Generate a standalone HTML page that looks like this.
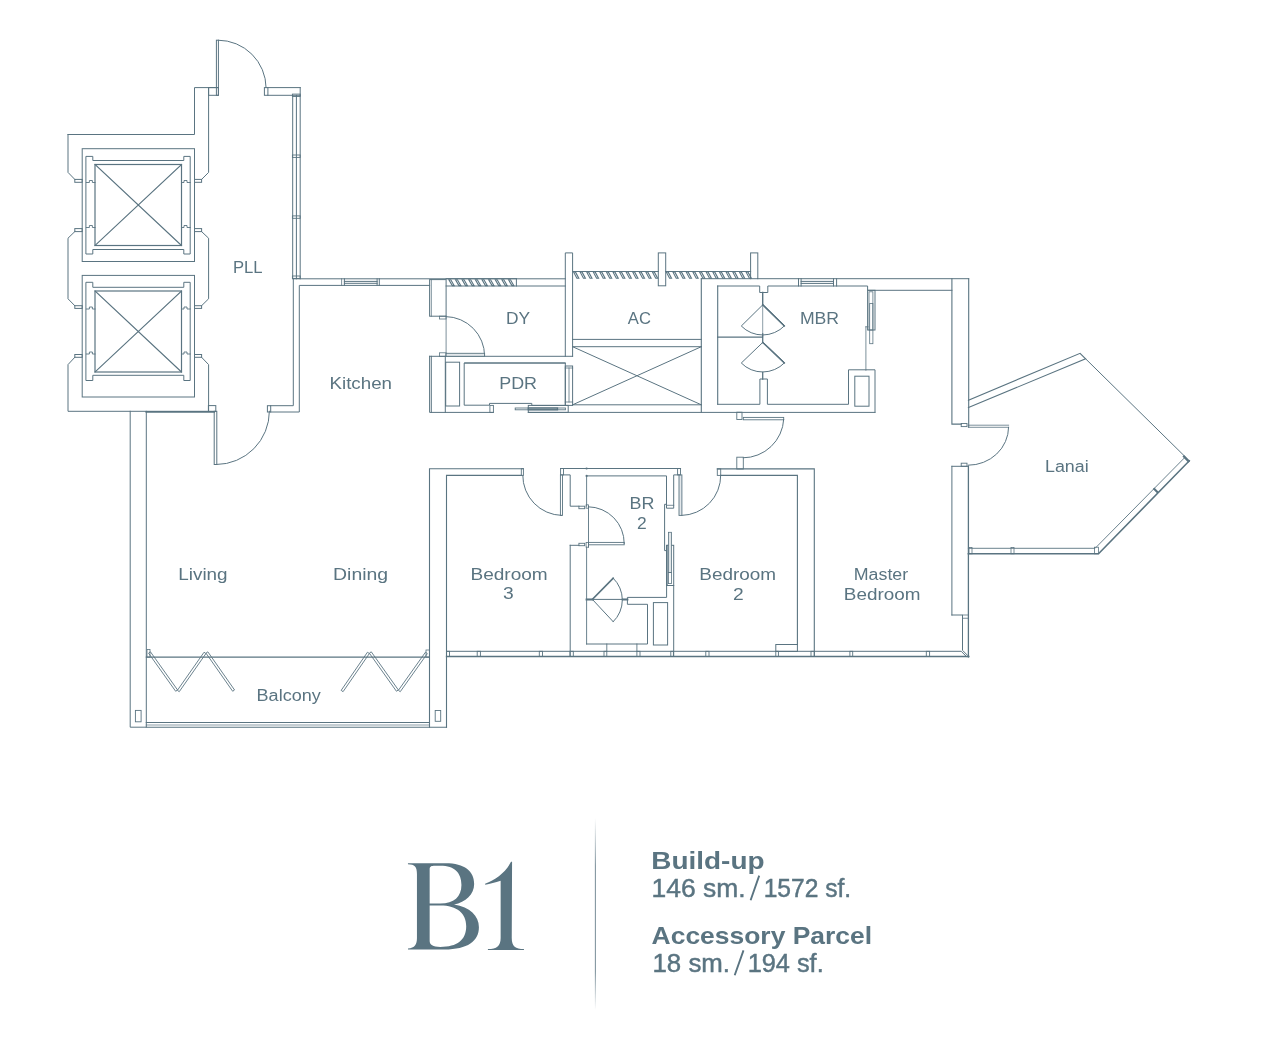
<!DOCTYPE html>
<html><head><meta charset="utf-8"><style>
html,body{margin:0;padding:0;background:#fff;width:1264px;height:1038px;overflow:hidden}
svg{display:block;will-change:transform}
</style></head><body>
<svg width="1264" height="1038" viewBox="0 0 1264 1038">
<g fill="none" stroke="#5a7481" stroke-linecap="square" stroke-linejoin="miter">
<path d="M68.0,134.5 H194.5 V87.6 H218.4" stroke-width="1.0" />
<path d="M68.0,134.5 V172.4 L74.8,179.4" stroke-width="1.0" />
<path d="M208.6,87.6 V172.4 L201.6,179.4" stroke-width="1.0" />
<rect x="74.8" y="179.4" width="7.4" height="2.9" stroke-width="1.0"/>
<rect x="194.5" y="179.4" width="7.1" height="2.9" stroke-width="1.0"/>
<rect x="74.8" y="228.6" width="7.4" height="3.0" stroke-width="1.0"/>
<rect x="194.5" y="228.6" width="7.1" height="3.0" stroke-width="1.0"/>
<path d="M74.8,231.6 L68.0,238.2 V298.8 L74.8,305.7" stroke-width="1.0" />
<path d="M201.6,231.6 L208.6,238.2 V298.8 L201.6,305.7" stroke-width="1.0" />
<rect x="74.8" y="305.7" width="7.4" height="2.7" stroke-width="1.0"/>
<rect x="194.5" y="305.7" width="7.1" height="2.7" stroke-width="1.0"/>
<rect x="74.8" y="354.5" width="7.4" height="2.8" stroke-width="1.0"/>
<rect x="194.5" y="354.5" width="7.1" height="2.8" stroke-width="1.0"/>
<path d="M74.8,357.3 L68.0,364.6 V411.3 H208.6 V364.6 L201.6,357.3" stroke-width="1.0" />
<rect x="82.2" y="148.7" width="112.3" height="112.8" stroke-width="1.0"/>
<path d="M86.4,156.4 H92.8 V160.5 H183.8 V156.4 H190.2 V254.0 H183.8 V249.5 H92.8 V254.0 H86.4 Z" stroke-width="1.0" />
<rect x="95.0" y="164.5" width="86.5" height="81.0" stroke-width="1.2"/>
<path d="M95.0,164.5 L181.5,245.5 M181.5,164.5 L95.0,245.5" stroke-width="1.1" />
<path d="M86.4,182.5 H89.4 V180.5 H92.4 V182.5 H95.0" stroke-width="0.9" />
<path d="M181.5,182.5 H184.0 V180.5 H187.0 V182.5 H190.2" stroke-width="0.9" />
<path d="M86.4,227.5 H89.4 V225.5 H92.4 V227.5 H95.0" stroke-width="0.9" />
<path d="M181.5,227.5 H184.0 V225.5 H187.0 V227.5 H190.2" stroke-width="0.9" />
<rect x="82.2" y="275.4" width="112.3" height="121.6" stroke-width="1.0"/>
<path d="M86.4,282.3 H92.8 V287.3 H183.8 V282.3 H190.2 V380.5 H183.8 V375.3 H92.8 V380.5 H86.4 Z" stroke-width="1.0" />
<rect x="95.0" y="291.0" width="86.5" height="81.0" stroke-width="1.2"/>
<path d="M95.0,291.0 L181.5,372.0 M181.5,291.0 L95.0,372.0" stroke-width="1.1" />
<path d="M86.4,309.0 H89.4 V307.0 H92.4 V309.0 H95.0" stroke-width="0.9" />
<path d="M181.5,309.0 H184.0 V307.0 H187.0 V309.0 H190.2" stroke-width="0.9" />
<path d="M86.4,354.0 H89.4 V352.0 H92.4 V354.0 H95.0" stroke-width="0.9" />
<path d="M181.5,354.0 H184.0 V352.0 H187.0 V354.0 H190.2" stroke-width="0.9" />
<rect x="208.6" y="87.6" width="9.8" height="7.7" stroke-width="1.0"/>
<rect x="216.4" y="40.2" width="2.0" height="55.1" stroke-width="1.0"/>
<path d="M218.4,40.2 A47.7,47.7 0 0 1 266.1,87.6" stroke-width="1.0" />
<rect x="264.4" y="87.6" width="3.5" height="7.7" stroke-width="1.0"/>
<path d="M267.9,87.6 H300.2 M267.9,95.3 H300.2" stroke-width="1.0" />
<path d="M292.7,95.3 V278.8 M296.4,95.3 V278.8 M300.2,87.6 V278.8" stroke-width="1.0" />
<rect x="292.4" y="94.1" width="7.8" height="2.4" stroke-width="0.9"/>
<rect x="292.4" y="155.0" width="7.8" height="2.4" stroke-width="0.9"/>
<rect x="292.4" y="215.9" width="7.8" height="2.4" stroke-width="0.9"/>
<rect x="292.4" y="276.0" width="7.8" height="2.4" stroke-width="0.9"/>
<rect x="208.4" y="405.6" width="7.4" height="5.7" stroke-width="1.0"/>
<rect x="214.2" y="411.3" width="2.6" height="53.2" stroke-width="1.0"/>
<path d="M216.6,464.5 A53,53 0 0 0 269.4,411.3" stroke-width="1.0" />
<rect x="267.4" y="405.7" width="3.3" height="6.3" stroke-width="1.0"/>
<path d="M270.7,405.7 H293.3 V278.8 H565.3" stroke-width="1.0" />
<path d="M270.7,412.0 H299.3 V285.4 H429.6" stroke-width="1.0" />
<path d="M130.2,411.3 V727.2 H146.3 V411.3" stroke-width="1.0" />
<path d="M146.3,411.9 H214.2" stroke-width="1.7" />
<path d="M341.6,278.8 V285.4" stroke-width="0.8" />
<path d="M344.4,278.8 V285.4 M377.1,278.8 V285.4 M379.3,278.8 V285.4 M344.4,281.4 H377.1 M344.4,283.3 H377.1" stroke-width="1.0" />
<rect x="429.6" y="279.6" width="16.5" height="36.6" stroke-width="1.0"/>
<path d="M431.3,279.6 V316.2" stroke-width="0.8" />
<path d="M446.1,278.7 H516.4 M446.1,286.0 H565.3 M516.4,278.7 V286" stroke-width="1.0" />
<path d="M448.90,279.8 L450.80,279.8 L454.20,285.6 L452.30,285.6 Z M455.53,279.8 L457.43,279.8 L460.83,285.6 L458.93,285.6 Z M462.16,279.8 L464.06,279.8 L467.46,285.6 L465.56,285.6 Z M468.79,279.8 L470.69,279.8 L474.09,285.6 L472.19,285.6 Z M475.42,279.8 L477.32,279.8 L480.72,285.6 L478.82,285.6 Z M482.05,279.8 L483.95,279.8 L487.35,285.6 L485.45,285.6 Z M488.68,279.8 L490.58,279.8 L493.98,285.6 L492.08,285.6 Z M495.31,279.8 L497.21,279.8 L500.61,285.6 L498.71,285.6 Z M501.94,279.8 L503.84,279.8 L507.24,285.6 L505.34,285.6 Z M508.57,279.8 L510.47,279.8 L513.87,285.6 L511.97,285.6 Z" stroke-width="1.1" />
<path d="M565.3,356.3 V252.9 H572.6 V356.3" stroke-width="1.0" />
<path d="M429.6,356.3 H572.6 M464.7,363 H565.3" stroke-width="1.0" />
<path d="M446.1,316.2 V356.3" stroke-width="0.8" />
<rect x="439.5" y="316.2" width="6.6" height="2.8" stroke-width="0.8"/>
<rect x="439.5" y="352.8" width="6.6" height="3.5" stroke-width="0.8"/>
<path d="M446.1,316.6 A39,39 0 0 1 484.6,355.6" stroke-width="1.0" />
<rect x="446.1" y="353.3" width="38.5" height="3" fill="#e3e8eb" stroke="#5a7481" stroke-width="0.9"/>
<path d="M429.6,356.3 V412.4 H493.4 M431.3,356.3 V412.4 M445.3,356.3 V412.4" stroke-width="1.0" />
<rect x="445.7" y="362.2" width="13.9" height="43.8" stroke-width="1.0"/>
<path d="M464.7,363 H565.3 V405.4 H531.8 V403.4 H489.5 V405.2 H464.7 Z" stroke-width="1.0" />
<rect x="489.9" y="405.4" width="3.5" height="7.0" stroke-width="0.9"/>
<rect x="528.3" y="405.4" width="39.9" height="7.0" stroke-width="1.0"/>
<rect x="515.2" y="408.0" width="50.2" height="1.8" stroke-width="0.9"/>
<rect x="528.3" y="408.0" width="29.2" height="1.8" stroke-width="1.3"/>
<rect x="565.3" y="366.0" width="7.3" height="39.4" stroke-width="1.0"/>
<path d="M565.3,368 H572.6 M565.3,402 H572.6 M569,368 V402" stroke-width="0.8" />
<path d="M572.6,271.5 H658.3 M665.7,271.5 H750.6" stroke-width="1.0" />
<rect x="658.3" y="252.9" width="7.4" height="32.9" stroke-width="1.0"/>
<path d="M573.50,271.9 L575.40,271.9 L578.80,278.3 L576.90,278.3 Z M580.07,271.9 L581.97,271.9 L585.37,278.3 L583.47,278.3 Z M586.64,271.9 L588.54,271.9 L591.94,278.3 L590.04,278.3 Z M593.21,271.9 L595.11,271.9 L598.51,278.3 L596.61,278.3 Z M599.78,271.9 L601.68,271.9 L605.08,278.3 L603.18,278.3 Z M606.35,271.9 L608.25,271.9 L611.65,278.3 L609.75,278.3 Z M612.92,271.9 L614.82,271.9 L618.22,278.3 L616.32,278.3 Z M619.49,271.9 L621.39,271.9 L624.79,278.3 L622.89,278.3 Z M626.06,271.9 L627.96,271.9 L631.36,278.3 L629.46,278.3 Z M632.63,271.9 L634.53,271.9 L637.93,278.3 L636.03,278.3 Z M639.20,271.9 L641.10,271.9 L644.50,278.3 L642.60,278.3 Z M645.77,271.9 L647.67,271.9 L651.07,278.3 L649.17,278.3 Z M652.34,271.9 L654.24,271.9 L657.64,278.3 L655.74,278.3 Z" stroke-width="1.1" />
<path d="M666.20,271.9 L668.10,271.9 L671.50,278.3 L669.60,278.3 Z M672.85,271.9 L674.75,271.9 L678.15,278.3 L676.25,278.3 Z M679.50,271.9 L681.40,271.9 L684.80,278.3 L682.90,278.3 Z M686.15,271.9 L688.05,271.9 L691.45,278.3 L689.55,278.3 Z M692.80,271.9 L694.70,271.9 L698.10,278.3 L696.20,278.3 Z M699.45,271.9 L701.35,271.9 L704.75,278.3 L702.85,278.3 Z M706.10,271.9 L708.00,271.9 L711.40,278.3 L709.50,278.3 Z M712.75,271.9 L714.65,271.9 L718.05,278.3 L716.15,278.3 Z M719.40,271.9 L721.30,271.9 L724.70,278.3 L722.80,278.3 Z M726.05,271.9 L727.95,271.9 L731.35,278.3 L729.45,278.3 Z M732.70,271.9 L734.60,271.9 L738.00,278.3 L736.10,278.3 Z M739.35,271.9 L741.25,271.9 L744.65,278.3 L742.75,278.3 Z M746.00,271.9 L747.90,271.9 L751.30,278.3 L749.40,278.3 Z" stroke-width="1.1" />
<path d="M572.6,339.4 H701.3 M572.6,346.7 H701.3" stroke-width="1.0" />
<path d="M572.6,346.7 L701.3,404.8 M701.3,346.7 L572.6,404.8" stroke-width="1.0" />
<path d="M572.6,404.8 H701.3 M528.3,412.4 H875" stroke-width="1.0" />
<path d="M701.3,278.7 V412.3 M717.7,286 V404.3" stroke-width="1.1" />
<rect x="750.6" y="252.9" width="7.2" height="25.8" stroke-width="1.0"/>
<path d="M701.3,278.7 H750.6 M757.8,278.7 H968.7 M717.7,286 H759.7 V292.5 H767.8 V286 H867.6 V290.3 H951.9" stroke-width="1.0" />
<path d="M798.5,278.7 V286 M801.1,278.7 V286 M833.5,278.7 V286 M836.6,278.7 V286 M801.1,281.4 H833.5 M801.1,283.4 H833.5" stroke-width="1.0" />
<path d="M762.7,292.5 V304.9" stroke-width="1.4" />
<path d="M762.7,304.9 L741.3,326 A30,30 0 0 0 784.3,326 Z" stroke-width="1.0" />
<path d="M717.7,337.2 H762.7 M762.7,334 V342.5" stroke-width="1.3" />
<path d="M762.7,342.5 L741.3,363 A30,30 0 0 0 784.3,363 Z" stroke-width="1.0" />
<path d="M762.7,304.9 V337" stroke-width="0.7" />
<path d="M762.7,304.9 L784.3,326 M762.7,342.5 L784.3,363" stroke-width="1.5" />
<path d="M762.7,372.3 V379" stroke-width="1.3" />
<path d="M717.7,404.3 H759.9 V379 H767.4 V404.3 H848.5 V369.8 H875 V412.2" stroke-width="1.0" />
<rect x="854.8" y="376.2" width="14.2" height="30.0" stroke-width="1.0"/>
<path d="M865.9,326.8 V370.2" stroke-width="0.8" />
<rect x="867.6" y="290.3" width="7.4" height="39.7" stroke-width="1.0"/>
<rect x="869.0" y="291.8" width="3.9" height="38.2" stroke-width="0.8"/>
<rect x="869.7" y="303.4" width="3.2" height="40.3" stroke-width="0.8"/>
<path d="M865.9,326.8 H868" stroke-width="0.8" />
<path d="M951.9,278.7 V424.1 H961.2 M968.7,278.7 V427.3" stroke-width="1.1" />
<rect x="961.2" y="423.5" width="5.8" height="3.1" stroke-width="0.9"/>
<rect x="736.8" y="412.2" width="5.2" height="7.3" stroke-width="0.9"/>
<rect x="743.3" y="417.4" width="40.4" height="2.4" stroke-width="0.9"/>
<path d="M783.7,419.5 A40.4,40.4 0 0 1 743.3,457.8" stroke-width="1.0" />
<rect x="736.8" y="457.2" width="6.5" height="11.8" stroke-width="0.9"/>
<path d="M968.4,400.2 L1080.1,353.3 L1085.6,358.8 L968.4,407.5" stroke-width="1.1" />
<path d="M1085.6,358.8 L1189.3,460.8" stroke-width="1.0" />
<path d="M1189.3,460.8 L1098.5,553.8 H968.4" stroke-width="1.6" />
<path d="M1184.9,457.4 L1095.1,548.3 H968.4" stroke-width="0.9" />
<path d="M1008.6,427.3 A40,38 0 0 1 968.4,465.2" stroke-width="1.0" />
<rect x="961.2" y="463.2" width="5.8" height="3.1" stroke-width="0.9"/>
<path d="M951.9,466.3 V615.0 M951.9,466.3 H968.4 M951.9,615 H962.5 V650.3 L967.6,655.4" stroke-width="1.0" />
<path d="M968.4,466.3 V657.0" stroke-width="1.3" />
<rect x="962.5" y="615.0" width="5.9" height="3.2" stroke-width="0.8"/>
<rect x="1094.5" y="547.2" width="4.0" height="6.6" stroke-width="0.8"/>
<path d="M1154.3,489.0 L1157.3,492.0 M1184.0,456.6 L1188.4,461.2" stroke-width="2.2" />
<path d="M968.4,425.2 H1008.6 M968.4,427.3 H1008.6" stroke-width="0.8" />
<rect x="969.0" y="547.4" width="3.0" height="6.4" stroke-width="0.8"/>
<rect x="1011.0" y="547.4" width="3.0" height="6.4" stroke-width="0.8"/>
<path d="M429.5,468.7 V727.2 M446.5,475.4 V727.2 M429.5,468.7 H523.4 M446.5,475.4 H521.3" stroke-width="1.1" />
<rect x="521.3" y="468.7" width="2.1" height="6.7" stroke-width="0.9"/>
<path d="M522.8,475.4 A39.5,39.5 0 0 0 561.5,515.4" stroke-width="1.0" />
<rect x="560.4" y="474.9" width="2.1" height="40.5" stroke-width="0.9"/>
<path d="M560.6,468.5 H680.5" stroke-width="1.1" />
<rect x="560.6" y="468.5" width="2.9" height="6.4" stroke-width="0.9"/>
<path d="M563.5,474.9 H570.2 V506.2 H578.9" stroke-width="1.0" />
<rect x="578.9" y="506.2" width="5.8" height="2.5" stroke-width="0.9"/>
<rect x="578.9" y="543.3" width="5.8" height="2.4" stroke-width="0.9"/>
<path d="M570.2,545.3 H578.9 M570.2,545.3 V656.5" stroke-width="1.0" />
<path d="M586.6,475.9 H666.5 V508.2 H673.7 V474.9 H679" stroke-width="1.0" />
<path d="M666.5,505.3 H673.7" stroke-width="0.8" />
<path d="M666.5,504.3 H664.6 V550.6 H666.5" stroke-width="1.0" />
<path d="M586.6,475.9 V506.2 M586.6,547.2 V644" stroke-width="0.9" />
<path d="M588.5,506.2 V547.2" stroke-width="0.9" />
<rect x="586.1" y="504.8" width="2.4" height="3.4" stroke-width="0.8"/>
<rect x="586.1" y="542.4" width="2.4" height="4.8" stroke-width="0.8"/>
<circle cx="586.6" cy="468.5" r="1.1" fill="#5a7481" stroke="none"/>
<circle cx="586.6" cy="475.9" r="1.1" fill="#5a7481" stroke="none"/>
<path d="M588.5,506.8 A36,36 0 0 1 624.2,543.3" stroke-width="1.0" />
<rect x="588.5" y="542.4" width="35.7" height="2.4" stroke-width="0.9"/>
<rect x="666.5" y="545.3" width="7.2" height="40.2" stroke-width="1.0"/>
<path d="M667.5,545.3 V585.5" stroke-width="0.7" />
<rect x="668.4" y="532.3" width="3.1" height="40.1" fill="#dfe5e8" stroke="#5a7481" stroke-width="0.8"/>
<rect x="668.6" y="572.4" width="2.9" height="11.2" stroke-width="0.8"/>
<path d="M666.6,585.5 V597.4 H627.4 V604.3 H647.5 V644 H586.6" stroke-width="1.0" />
<path d="M673.7,585.5 V656.5" stroke-width="1.0" />
<rect x="679" y="474.9" width="2.9" height="40.5" fill="#e3e8eb" stroke="#5a7481" stroke-width="0.9"/>
<rect x="677.6" y="468.5" width="2.9" height="6.4" stroke-width="0.9"/>
<path d="M681.9,515.4 A39.5,39.5 0 0 0 720.7,475.4" stroke-width="1.0" />
<path d="M592.4,599.4 L613.2,578.2" stroke-width="1.6" />
<path d="M592.4,599.4 L613.2,621.7 M613.2,578.2 A30,30 0 0 1 613.2,621.7" stroke-width="1.0" />
<path d="M586.6,599.4 H627.4" stroke-width="1.0" />
<path d="M586.6,599.4 H592.4 M622.8,599.4 H627.4" stroke-width="2.0" />
<rect x="653.4" y="602.6" width="14.2" height="42.4" stroke-width="1.0"/>
<path d="M606.8,644 V651.4 M636.9,644 V651.4" stroke-width="0.9" />
<path d="M717.3,468.9 H814.3 V656.2 M720.7,475.4 H797.4 V644.5" stroke-width="1.1" />
<rect x="717.3" y="468.9" width="3.4" height="6.5" stroke-width="0.9"/>
<rect x="775.8" y="644.5" width="21.6" height="6.9" stroke-width="1.0"/>
<path d="M446.5,651.3 H961.2 L966.4,656.5" stroke-width="1.0" />
<path d="M446.5,656.5 H968.9" stroke-width="1.3" />
<rect x="446.5" y="651.3" width="3.0" height="5.2" stroke-width="0.9"/>
<rect x="477.2" y="651.3" width="3.2" height="5.2" stroke-width="0.9"/>
<rect x="539.3" y="651.3" width="3.2" height="5.2" stroke-width="0.9"/>
<rect x="570.0" y="651.3" width="3.3" height="5.2" stroke-width="0.9"/>
<rect x="604.0" y="651.3" width="2.8" height="5.2" stroke-width="0.9"/>
<rect x="636.9" y="651.3" width="3.1" height="5.2" stroke-width="0.9"/>
<rect x="670.8" y="651.3" width="2.6" height="5.2" stroke-width="0.9"/>
<rect x="705.8" y="651.3" width="3.2" height="5.2" stroke-width="0.9"/>
<rect x="775.8" y="651.3" width="2.6" height="5.2" stroke-width="0.9"/>
<rect x="811.0" y="651.3" width="3.3" height="5.2" stroke-width="0.9"/>
<rect x="849.9" y="651.3" width="2.8" height="5.2" stroke-width="0.9"/>
<rect x="926.3" y="651.3" width="3.3" height="5.2" stroke-width="0.9"/>
<path d="M146.3,657.1 H429.4" stroke-width="1.1" />
<path d="M146.3,722.5 H429.4 M146.3,727.2 H429.4 M429.4,727.2 H446.5" stroke-width="1.1" />
<path d="M146.3,725 H429.4" stroke-width="0.7" />
<path d="M148.86,653.57 L175.66,691.27 L177.54,689.93 L150.74,652.23 Z" stroke-width="0.9" />
<path d="M179.54,691.26 L205.94,653.56 L204.06,652.24 L177.66,689.94 Z" stroke-width="0.9" />
<path d="M206.26,653.56 L232.66,691.26 L234.54,689.94 L208.14,652.24 Z" stroke-width="0.9" />
<path d="M343.35,691.25 L369.35,653.55 L367.45,652.25 L341.45,689.95 Z" stroke-width="0.9" />
<path d="M369.66,653.57 L396.46,691.27 L398.34,689.93 L371.54,652.23 Z" stroke-width="0.9" />
<path d="M400.54,691.27 L427.34,653.57 L425.46,652.23 L398.66,689.93 Z" stroke-width="0.9" />
<rect x="135.4" y="710.4" width="5.7" height="11.4" stroke-width="0.9"/>
<rect x="435.2" y="710.5" width="5.5" height="10.8" stroke-width="0.9"/>
<rect x="147.0" y="649.5" width="3.0" height="7.6" stroke-width="0.8"/>
<rect x="426.0" y="650.0" width="3.4" height="7.1" stroke-width="0.8"/>
</g>
<g fill="#5a7481" font-family="Liberation Sans, sans-serif" font-size="16">
<text x="233.0" y="272.9" textLength="29.6" lengthAdjust="spacingAndGlyphs">PLL</text>
<text x="329.5" y="388.7" textLength="62.5" lengthAdjust="spacingAndGlyphs">Kitchen</text>
<text x="506.1" y="323.6" textLength="24.1" lengthAdjust="spacingAndGlyphs">DY</text>
<text x="627.8" y="323.6" textLength="23.1" lengthAdjust="spacingAndGlyphs">AC</text>
<text x="799.9" y="323.6" textLength="39.2" lengthAdjust="spacingAndGlyphs">MBR</text>
<text x="499.2" y="388.7" textLength="37.8" lengthAdjust="spacingAndGlyphs">PDR</text>
<text x="1045.0" y="471.8" textLength="43.6" lengthAdjust="spacingAndGlyphs">Lanai</text>
<text x="178.3" y="580.0" textLength="49.3" lengthAdjust="spacingAndGlyphs">Living</text>
<text x="333.1" y="580.0" textLength="55.0" lengthAdjust="spacingAndGlyphs">Dining</text>
<text x="470.5" y="579.7" textLength="77.2" lengthAdjust="spacingAndGlyphs">Bedroom</text>
<text x="502.9" y="599.4" textLength="10.7" lengthAdjust="spacingAndGlyphs">3</text>
<text x="629.5" y="508.7" textLength="24.9" lengthAdjust="spacingAndGlyphs">BR</text>
<text x="637.1" y="528.8" textLength="9.7" lengthAdjust="spacingAndGlyphs">2</text>
<text x="699.3" y="580.0" textLength="76.8" lengthAdjust="spacingAndGlyphs">Bedroom</text>
<text x="732.9" y="599.8" textLength="10.7" lengthAdjust="spacingAndGlyphs">2</text>
<text x="853.8" y="579.6" textLength="54.4" lengthAdjust="spacingAndGlyphs">Master</text>
<text x="843.8" y="599.5" textLength="76.6" lengthAdjust="spacingAndGlyphs">Bedroom</text>
<text x="256.6" y="701.1" textLength="64.1" lengthAdjust="spacingAndGlyphs">Balcony</text>
</g>
<defs><linearGradient id="dv" x1="0" y1="0" x2="0" y2="1">
<stop offset="0" stop-color="#5a7481" stop-opacity="0"/><stop offset="0.25" stop-color="#5a7481" stop-opacity="0.72"/>
<stop offset="0.8" stop-color="#5a7481" stop-opacity="0.72"/><stop offset="1" stop-color="#5a7481" stop-opacity="0"/></linearGradient></defs>
<rect x="594.85" y="818" width="1.15" height="192" fill="url(#dv)"/>
<g transform="translate(400,850) scale(0.10593)" fill="#5a7481" fill-rule="evenodd">
<path d="M75,125 L430,125 C610,125 700,200 700,320 C700,420 620,490 510,515 C660,540 745,620 745,730 C745,860 640,940 420,940 L75,940 L75,930 C140,925 160,890 160,830 L160,230 C160,160 140,135 75,135 Z
M280,180 C280,155 295,148 330,148 L380,148 C520,148 580,220 580,330 C580,440 510,505 380,505 L280,505 Z
M280,525 L380,525 C540,525 625,600 625,720 C625,850 540,915 380,915 C310,915 280,895 280,860 Z"/>
<path d="M1048,112 L1058,112 L1055,830 C1055,910 1090,935 1170,935 L1170,943 L830,943 L830,935 C915,935 950,905 950,830 L950,290 C900,305 850,320 805,328 L803,318 C900,280 990,220 1048,112 Z"/>
</g>
<g fill="#5a7481" font-family="Liberation Sans, sans-serif">
<text x="651.3" y="868.5" font-size="23.5" font-weight="bold" textLength="113.2" lengthAdjust="spacingAndGlyphs">Build-up</text>
<text x="651.50" y="897.3" font-size="25" stroke="#5a7481" stroke-width="0.45" textLength="94.00" lengthAdjust="spacingAndGlyphs">146 sm.</text>
<text x="763.70" y="897.3" font-size="25" stroke="#5a7481" stroke-width="0.45" textLength="87.50" lengthAdjust="spacingAndGlyphs">1572 sf.</text>
<text x="651.6" y="944.4" font-size="24.5" font-weight="bold" textLength="220.5" lengthAdjust="spacingAndGlyphs">Accessory Parcel</text>
<text x="652.50" y="972.3" font-size="25" stroke="#5a7481" stroke-width="0.45" textLength="77.50" lengthAdjust="spacingAndGlyphs">18 sm.</text>
<text x="747.70" y="972.3" font-size="25" stroke="#5a7481" stroke-width="0.45" textLength="76.00" lengthAdjust="spacingAndGlyphs">194 sf.</text>
<path d="M750.6,900.2 L759.2,875.6 M734.7,975.3 L743.5,950.4" stroke="#5a7481" stroke-width="1.9" fill="none"/>
</g>
</svg>
</body></html>
